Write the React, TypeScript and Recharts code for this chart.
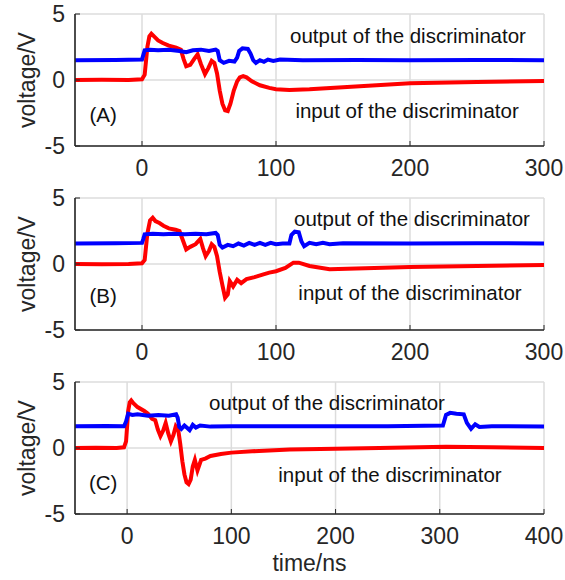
import React from 'react'
import { LineChart, Line, XAxis, YAxis, CartesianGrid, ReferenceDot } from 'recharts'

const FONT = '"Liberation Sans", Arial, Helvetica, sans-serif'
const INK = '#262626'
const TEXT = '#111111'
const RED = '#ff0000'
const BLUE = '#0000ff'
const GRID = '#dcdcdc'

// axis ticks
const timeTicksShort = [0, 100, 200, 300]
const timeTicksLong = [0, 100, 200, 300, 400]
const voltTicks = [-5, 0, 5]

// (A) input of the discriminator (red)
const aInT = [-50, -30, -10, 0, 2, 4, 5.5, 7, 9, 12, 15.5, 20, 25.5, 29, 31, 33, 36, 39, 41.5, 44, 47, 49.5, 52, 54, 56, 58, 60, 62, 64, 66, 68.5, 71, 73, 75.5, 78, 82, 88, 95, 100, 110, 125, 150, 175, 200, 250, 300]
const aInV = [0, 0.02, 0, 0.05, 0.4, 2.5, 3.3, 3.5, 3.3, 3.0, 2.8, 2.6, 2.45, 2.3, 1.6, 1.05, 1.15, 1.6, 1.95, 1.2, 0.45, 0.9, 1.45, 1.3, 0.5, -0.8, -1.8, -2.3, -2.35, -1.8, -0.8, -0.1, 0.2, 0.3, 0.2, -0.1, -0.4, -0.6, -0.7, -0.75, -0.7, -0.55, -0.4, -0.25, -0.15, -0.08]
// (A) output of the discriminator (blue)
const aOutT = [-50, -20, 0, 1, 2, 6, 12, 20, 28, 33, 38, 44, 50, 55, 56.5, 58, 61, 65, 69, 71, 72.5, 75, 79, 81, 83, 85, 88, 91, 94, 98, 103, 120, 160, 200, 250, 300]
const aOutV = [1.5, 1.52, 1.55, 1.9, 2.25, 2.3, 2.25, 2.3, 2.2, 2.1, 2.25, 2.3, 2.2, 2.3, 2.2, 1.5, 1.3, 1.45, 1.4, 1.7, 2.2, 2.4, 2.35, 2.0, 1.5, 1.3, 1.5, 1.38, 1.55, 1.45, 1.55, 1.5, 1.52, 1.5, 1.52, 1.5]

// (B)
const bInT = [-50, -30, -10, 0, 2, 4, 6, 8, 10, 13, 16, 20, 25, 28, 30.5, 33, 36, 40, 43.5, 45.5, 47.5, 50, 52, 54, 56, 58, 60, 62, 64, 65.5, 68, 71, 74, 78, 84, 90, 95, 100, 107, 113, 117, 125, 140, 160, 200, 250, 300]
const bInV = [0, -0.02, 0, 0.05, 0.3, 2.3, 3.3, 3.5, 3.25, 3.1, 2.9, 2.7, 2.6, 2.5, 1.8, 1.1, 1.3, 1.5, 1.9, 1.2, 0.6, 1.0, 1.5, 1.3, 0.6, -0.6, -1.6, -2.55, -2.3, -1.3, -1.7, -1.2, -1.45, -1.15, -1.0, -0.8, -0.65, -0.55, -0.3, 0.1, 0.1, -0.15, -0.4, -0.35, -0.23, -0.15, -0.08]
const bOutT = [-50, -20, 0, 1, 2, 8, 16, 24, 32, 40, 48, 55, 56.5, 58, 60, 64, 68, 72, 76, 80, 84, 88, 92, 96, 100, 105, 110, 111.5, 114, 117, 119, 121, 125, 130, 135, 140, 150, 200, 250, 300]
const bOutV = [1.55, 1.57, 1.6, 1.9, 2.25, 2.3, 2.25, 2.3, 2.25, 2.3, 2.25, 2.35, 2.2, 1.45, 1.25, 1.45, 1.35, 1.55, 1.4, 1.6, 1.45, 1.6, 1.45, 1.6, 1.5, 1.55, 1.55, 2.2, 2.45, 2.4, 1.7, 1.35, 1.6, 1.5, 1.6, 1.5, 1.58, 1.55, 1.58, 1.55]

// (C)
const cInT = [-50, -30, -10, -3, -1, 1, 2.5, 4, 6, 10, 16.5, 20, 24, 27, 29.5, 32, 34.5, 37, 39.5, 42, 44.5, 46.7, 49, 51, 53, 55, 57, 59, 61, 63, 65, 67.5, 71, 75, 80, 90, 100, 120, 156, 200, 242, 306, 350, 400]
const cInV = [0, 0.02, 0, 0.05, 0.5, 2.8, 3.45, 3.6, 3.4, 3.1, 2.8, 2.6, 2.2, 2.1, 1.4, 0.9, 1.3, 1.9, 1.1, 0.5, 1.0, 1.65, 1.4, 0.3, -1.0, -2.0, -2.6, -2.73, -2.4, -1.4, -0.9, -1.7, -0.9, -0.8, -0.6, -0.45, -0.35, -0.25, -0.12, -0.05, 0, 0.1, 0.05, 0]
const cOutT = [-50, -20, -3, -1, 1, 5, 10, 20, 30, 40, 47, 48.5, 50, 52, 55, 58, 60, 63, 66, 70, 80, 100, 150, 200, 250, 303, 306, 310, 316, 323, 326, 330, 334, 338, 350, 400]
const cOutV = [1.65, 1.67, 1.65, 2.0, 2.6, 2.5, 2.55, 2.45, 2.5, 2.45, 2.55, 2.3, 1.6, 1.45, 1.7, 1.5, 1.35, 1.75, 1.55, 1.7, 1.62, 1.65, 1.65, 1.65, 1.65, 1.7, 2.5, 2.66, 2.6, 2.55, 1.9, 1.45, 1.8, 1.6, 1.65, 1.62]

type Pt = { t: number; v: number }
const toPoints = (t: number[], v: number[]): Pt[] => t.map((x, i) => ({ t: x, v: v[i] }))

const VoltTitle = (props: any) => {
  const vb = props.viewBox ?? { y: 14, height: 132 }
  const cy = vb.y + vb.height / 2
  return (
    <text x={35} y={cy} transform={`rotate(-90 35 ${cy})`} textAnchor="middle"
      fontSize={23} fill={INK} fontFamily={FONT}>
      voltage/V
    </text>
  )
}

const TimeTitle = (props: any) => {
  const vb = props.viewBox ?? { x: 75, y: 146, width: 469, height: 38 }
  return (
    <text x={vb.x + vb.width / 2} y={vb.y + vb.height + 19} textAnchor="middle"
      fontSize={23} fill={INK} fontFamily={FONT}>
      time/ns
    </text>
  )
}

interface PanelProps {
  top: number
  height: number
  xMax: number
  xTicks: number[]
  input: Pt[]
  output: Pt[]
  tag: string
  tagAt: [number, number]
  outAt: [number, number]
  inAt: [number, number]
  withTitle?: boolean
}

function Panel(p: PanelProps) {
  const note = (value: string, at: [number, number]) => (
    <ReferenceDot x={at[0]} y={at[1]} r={0} fill="none" stroke="none" ifOverflow="visible"
      label={{ value, position: 'center', fontSize: 20.5, fill: TEXT, fontFamily: FONT }} />
  )
  const axisTick = { fontSize: 23, fill: INK, fontFamily: FONT }
  const hide = () => ''
  return (
    <div style={{ position: 'absolute', left: 0, top: p.top, width: 565, height: p.height }}>
      <LineChart width={565} height={p.height}
        margin={{ top: 14, right: 21, bottom: p.height - 184, left: 0 }}>
        <CartesianGrid stroke={GRID} strokeWidth={1.5} />
        <XAxis dataKey="t" type="number" domain={[-50, p.xMax]} ticks={p.xTicks} interval={0}
          allowDataOverflow height={38} tickSize={-5} tickMargin={19} tick={axisTick}
          tickLine={{ stroke: INK }} axisLine={{ stroke: INK, strokeWidth: 1.6 }}
          label={p.withTitle ? <TimeTitle /> : undefined} />
        <XAxis xAxisId="top" orientation="top" dataKey="t" type="number" domain={[-50, p.xMax]}
          ticks={p.xTicks} interval={0} allowDataOverflow height={0} tickSize={-5}
          tickFormatter={hide} tickLine={{ stroke: INK }} axisLine={{ stroke: INK, strokeWidth: 1.6 }} />
        <YAxis type="number" domain={[-5, 5]} ticks={voltTicks} interval={0} allowDataOverflow
          width={75} tickSize={-5} tickMargin={15} tick={axisTick}
          tickLine={{ stroke: INK }} axisLine={{ stroke: INK, strokeWidth: 1.6 }}
          label={<VoltTitle />} />
        <YAxis yAxisId="right" orientation="right" type="number" domain={[-5, 5]} ticks={voltTicks}
          interval={0} width={0} tickSize={-5} tickFormatter={hide}
          tickLine={{ stroke: INK }} axisLine={{ stroke: INK, strokeWidth: 1.6 }} />
        <Line data={p.input} dataKey="v" type="linear" stroke={RED} strokeWidth={4}
          dot={false} isAnimationActive={false} />
        <Line data={p.output} dataKey="v" type="linear" stroke={BLUE} strokeWidth={4}
          dot={false} isAnimationActive={false} />
        {note('output of the discriminator', p.outAt)}
        {note('input of the discriminator', p.inAt)}
        {note(p.tag, p.tagAt)}
      </LineChart>
    </div>
  )
}

export default function App() {
  return (
    <div style={{ position: 'absolute', left: 0, top: 0, width: 565, height: 580, background: '#fff', fontFamily: FONT }}>
      <Panel top={0} height={184} xMax={300} xTicks={timeTicksShort}
        input={toPoints(aInT, aInV)} output={toPoints(aOutT, aOutV)}
        tag="(A)" tagAt={[-29, -2.65]} outAt={[198.5, 3.33]} inAt={[197.8, -2.35]} />
      <Panel top={184} height={184} xMax={300} xTicks={timeTicksShort}
        input={toPoints(bInT, bInV)} output={toPoints(bOutT, bOutV)}
        tag="(B)" tagAt={[-29, -2.4]} outAt={[201.5, 3.4]} inAt={[200, -2.18]} />
      <Panel top={368} height={212} xMax={400} xTicks={timeTicksLong}
        input={toPoints(cInT, cInV)} output={toPoints(cOutT, cOutV)}
        tag="(C)" tagAt={[-23, -2.65]} outAt={[191.8, 3.41]} inAt={[252.2, -2.05]} withTitle />
    </div>
  )
}
